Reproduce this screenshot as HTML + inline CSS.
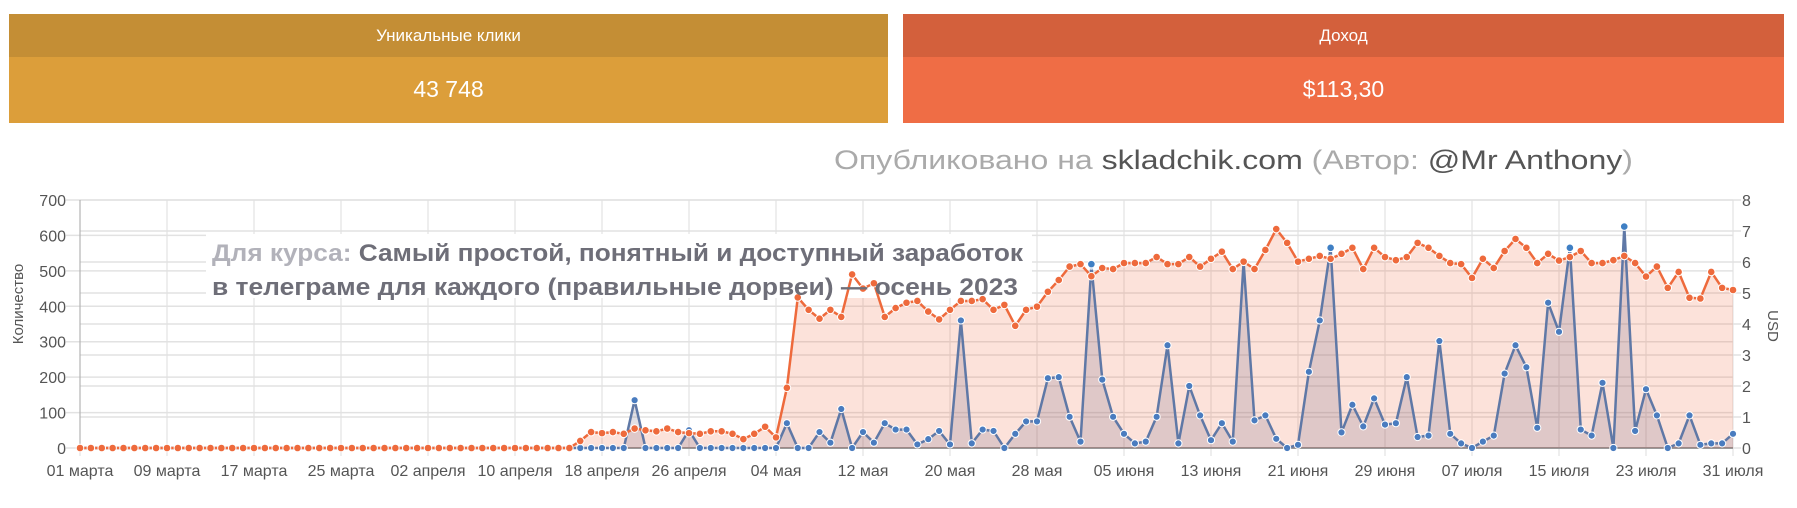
<!DOCTYPE html>
<html><head><meta charset="utf-8"><style>
body{margin:0;width:1797px;height:508px;background:#fff;overflow:hidden;font-family:"Liberation Sans",sans-serif;position:relative}
.box{position:absolute;top:14px;height:109px;color:#fff;text-align:center}
.h{height:43px;line-height:43px;font-size:17px}
.v{height:66px;line-height:64px;font-size:23px}
</style></head><body>
<div class="box" style="left:9px;width:879px"><div class="h" style="background:#c48e35">Уникальные клики</div><div class="v" style="background:#dc9e3a">43 748</div></div>
<div class="box" style="left:903px;width:881px"><div class="h" style="background:#d3603c">Доход</div><div class="v" style="background:#ef6d45">$113,30</div></div>
<svg id="s" width="1797" height="508" style="position:absolute;left:0;top:0" font-family="Liberation Sans, sans-serif"></svg>
<script>
var O=[];for(var i=0;i<46;i++)O.push(0);
O=O.concat([20,45,42,45,40,55,50,47,55,45,42,40,47,47,40,25,40,60,
30,170,425,390,365,390,370,490,450,465,370,
395,410,415,385,363,390,415,415,420,390,
404,345,
390,399,441,474,512,519,485,508,505,522,522,522,539,519,519,539,512,534,554,505,526,505,559,618,579,526,534,542,534,548,565,505,565,539,
530,539,579,565,542,522,519,480,534,508,556,590,565,522,548,529,539,556,522,522,530,542,522,484,512,452,497,424,422,497,452,446]);
var B=[];for(var i=0;i<153;i++)B.push(0);
B[51]=135;B[56]=50;
var bt=[70,0,0,45,15,110,0,45,15,70,52,52,10,25,48,10,360,13,52,48,0,40,75,75,197,200,88,18,515,193,88,40,13,18,88,290,13,175,92,22,70,18,525,78,92,26,0,9,215,360,565,44,122,61,140,66,70,200,31,35,302,40,13,0,18,35,210,290,228,57,410,328,565,52,35,184,0,625,48,166,92,0,13,92,9,13,13,40];
for(var i=0;i<bt.length&&65+i<153;i++)B[65+i]=bt[i];
var X0=80,X1=1733,Y0=448,Yt=200,dx=(X1-X0)/152;
function px(i){return X0+i*dx}function py(v){return Y0-(v/700)*(Y0-Yt)}
var h='';
for(var k=0;k<=7;k++){var y=py(k*100);h+='<line x1="66" x2="'+X1+'" y1="'+y+'" y2="'+y+'" stroke="#e2e2e2" stroke-width="1.5"/><text x="66" y="'+(y+6)+'" font-size="16" fill="#555" text-anchor="end">'+(k*100)+'</text>';}
for(var k=0;k<=8;k++){var y=Y0-k*(Y0-Yt)/8;h+='<line x1="'+X0+'" x2="'+(X1+8)+'" y1="'+y+'" y2="'+y+'" stroke="#e2e2e2" stroke-width="1.5"/><text x="1742" y="'+(y+6)+'" font-size="16" fill="#555">'+k+'</text>';}
var L=['01 марта','09 марта','17 марта','25 марта','02 апреля','10 апреля','18 апреля','26 апреля','04 мая','12 мая','20 мая','28 мая','05 июня','13 июня','21 июня','29 июня','07 июля','15 июля','23 июля','31 июля'];
for(var k=0;k<20;k++){var x=px(k*8);h+='<line x1="'+x+'" x2="'+x+'" y1="'+Yt+'" y2="'+(Y0+8)+'" stroke="#e2e2e2" stroke-width="1.2"/><text x="'+x+'" y="476" font-size="16" fill="#555" text-anchor="middle">'+L[k]+'</text>';}
h+='<line x1="'+X0+'" x2="'+X0+'" y1="'+Yt+'" y2="'+Y0+'" stroke="#aaa"/><line x1="'+X0+'" x2="'+X1+'" y1="'+Y0+'" y2="'+Y0+'" stroke="#999" stroke-width="2"/>';
function pts(a){return a.map(function(v,i){return px(i).toFixed(1)+','+py(v).toFixed(1)}).join(' ')}
h+='<polygon points="'+X0+','+Y0+' '+pts(O)+' '+px(O.length-1)+','+Y0+'" fill="rgba(242,110,70,0.2)"/>';
h+='<polygon points="'+X0+','+Y0+' '+pts(B)+' '+X1+','+Y0+'" fill="rgba(110,100,130,0.2)"/>';
h+='<rect x="206" y="234" width="826" height="64" fill="#fff"/>';
h+='<polyline points="'+pts(B)+'" fill="none" stroke="#5f78a6" stroke-width="2.5"/>';
B.forEach(function(v,i){h+='<circle cx="'+px(i)+'" cy="'+py(v)+'" r="3.6" fill="#4a7cbf" stroke="#fff" stroke-width="1"/>'});
h+='<polyline points="'+pts(O)+'" fill="none" stroke="#ee6a3c" stroke-width="2.5"/>';
O.forEach(function(v,i){h+='<circle cx="'+px(i)+'" cy="'+py(v)+'" r="3.8" fill="#ee6a3c" stroke="#fff" stroke-width="1"/>'});
[[93,519],[115,565],[137,565],[142,625]].forEach(function(p){h+='<circle cx="'+px(p[0])+'" cy="'+py(p[1])+'" r="3.8" fill="#3f7fc4" stroke="#fff" stroke-width="1"/>'});
h+='<text x="834" y="169" font-size="27" fill="#aaa" textLength="799" lengthAdjust="spacingAndGlyphs">Опубликовано на <tspan fill="#555">skladchik.com</tspan> (Автор: <tspan fill="#555">@Mr Anthony</tspan>)</text>';
h+='<text x="212" y="261" font-size="24" font-weight="bold" fill="#6e6e78" textLength="811" lengthAdjust="spacingAndGlyphs"><tspan fill="#b2b2ba">Для курса:</tspan> Самый простой, понятный и доступный заработок</text>';
h+='<text x="212" y="295" font-size="24" font-weight="bold" fill="#6e6e78" textLength="806" lengthAdjust="spacingAndGlyphs">в телеграме для каждого (правильные дорвеи) — осень 2023</text>';
h+='<text transform="translate(23,304) rotate(-90)" font-size="15" fill="#555" text-anchor="middle">Количество</text>';
h+='<text transform="translate(1768,326) rotate(90)" font-size="15" fill="#555" text-anchor="middle">USD</text>';
document.getElementById('s').innerHTML=h;
</script>
</body></html>
